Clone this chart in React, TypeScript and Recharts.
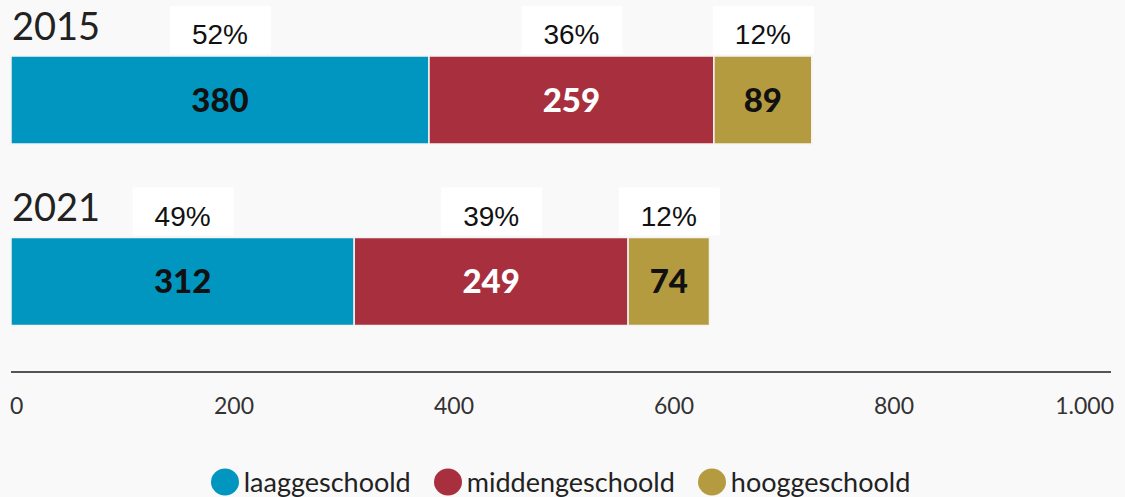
import React from 'react';
import { BarChart, Bar, XAxis, YAxis, LabelList, Legend } from 'recharts';

const years = ['2015', '2021'];
const laag = [380, 312];
const midden = [259, 249];
const hoog = [89, 74];
const laagPct = ['52%', '49%'];
const middenPct = ['36%', '39%'];
const hoogPct = ['12%', '12%'];
const xTicks = [0, 200, 400, 600, 800, 1000];

const series = [
  { key: 'laag', pctKey: 'laagPct', name: 'laaggeschoold', color: '#0096c0', text: '#111' },
  { key: 'midden', pctKey: 'middenPct', name: 'middengeschoold', color: '#a8303e', text: '#ffffff' },
  { key: 'hoog', pctKey: 'hoogPct', name: 'hooggeschoold', color: '#b59b40', text: '#111' },
];

const data = years.map((y, i) => ({
  year: y,
  laag: laag[i],
  midden: midden[i],
  hoog: hoog[i],
  laagPct: laagPct[i],
  middenPct: middenPct[i],
  hoogPct: hoogPct[i],
}));

const PctLabel = (props: any) => {
  const { x, y, width, value } = props;
  const cx = Number(x) + Number(width) / 2;
  const top = Number(y);
  return (
    <g>
      <rect x={cx - 50} y={top - 50} width={101} height={48} fill="#ffffff" />
      <text x={cx} y={top - 12} textAnchor="middle" fontFamily="'Liberation Sans', Arial, sans-serif" fontSize={28} fill="#111">
        {value}
      </text>
    </g>
  );
};

const YearTick = (props: any) => {
  const { y, payload } = props;
  return (
    <text x={12} y={Number(y) - 60} textAnchor="start" fontFamily="Lato, sans-serif" fontSize={38} fill="#222">
      {payload.value}
    </text>
  );
};

const XTick = (props: any) => {
  const { x, y, payload } = props;
  const v = payload.value;
  const anchor = v === xTicks[0] ? 'start' : v === xTicks[xTicks.length - 1] ? 'end' : 'middle';
  const dx = v === xTicks[0] ? -1 : 3;
  return (
    <text x={Number(x) + dx} y={Number(y) + 42} textAnchor={anchor} fontFamily="Lato, sans-serif" fontSize={23} fill="#333">
      {Number(v).toLocaleString('nl-NL')}
    </text>
  );
};

const LegendContent = () => (
  <div style={{ display: 'flex', justifyContent: 'center', alignItems: 'center', height: 31, fontFamily: 'Lato, sans-serif', fontSize: 27, color: '#222' }}>
    {series.map((s, i) => (
      <div key={s.key} style={{ display: 'flex', alignItems: 'center', marginRight: i < series.length - 1 ? 23 : 0 }}>
        <svg width={28} height={28} style={{ marginRight: 5 }}>
          <ellipse cx={14} cy={14} rx={14} ry={13.5} fill={s.color} />
        </svg>
        <span style={{ lineHeight: '31px' }}>{s.name}</span>
      </div>
    ))}
  </div>
);

export default function App() {
  return (
    <div style={{ position: 'absolute', left: 0, top: 0, width: 1125, height: 497, background: '#f9f9f9' }}>
      <BarChart
        width={1125}
        height={497}
        data={data}
        layout="vertical"
        margin={{ top: 9, right: 14, bottom: 0, left: 10 }}
      >
        <XAxis
          type="number"
          domain={[0, 1000]}
          ticks={xTicks}
          axisLine={{ stroke: '#555', strokeWidth: 2 }}
          tickLine={false}
          tickSize={0}
          tickMargin={0}
          height={94}
          tick={<XTick />}
          interval={0}
        />
        <YAxis
          type="category"
          dataKey="year"
          width={1}
          axisLine={false}
          tickLine={false}
          tickSize={0}
          tickMargin={0}
          interval={0}
          tick={<YearTick />}
        />
        <Legend verticalAlign="bottom" content={<LegendContent />} />
        {series.map((s) => (
          <Bar
            key={s.key}
            dataKey={s.key}
            name={s.name}
            stackId="a"
            fill={s.color}
            stroke="#f4f4f4"
            strokeWidth={1.5}
            barSize={88}
            isAnimationActive={false}
          >
            <LabelList
              dataKey={s.key}
              position="center"
              fill={s.text}
              fontFamily="Lato, sans-serif"
              fontWeight={900}
              fontSize={33}
            />
            <LabelList dataKey={s.pctKey} content={<PctLabel />} />
          </Bar>
        ))}
      </BarChart>
    </div>
  );
}
